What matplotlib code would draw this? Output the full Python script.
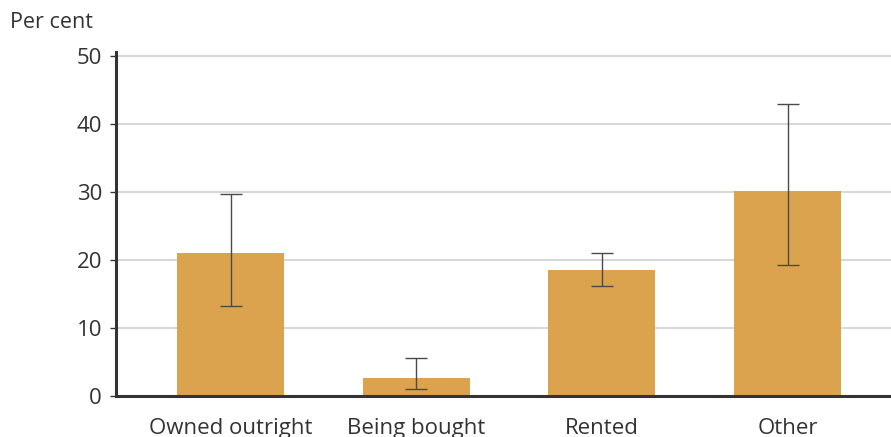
import matplotlib
matplotlib.use("Agg")
import matplotlib.pyplot as plt
import numpy as np

# tenure type, share in per cent, with confidence interval bounds
categories = ["Owned outright", "Being bought", "Rented", "Other"]
values = [21.0, 2.6, 18.5, 30.1]
err_low = [13.2, 1.0, 16.2, 19.3]
err_high = [29.7, 5.6, 21.0, 43.0]

plt.rcParams["font.family"] = ["Open Sans", "DejaVu Sans"]
txt = "#333333"

fig = plt.figure(figsize=(8.91, 4.37), dpi=100)
ax = fig.add_axes([116 / 891, 1 - 396 / 437, 1 - 116 / 891, (396 - 52) / 437])

x = np.arange(len(categories))
vals = np.array(values)
yerr = [vals - np.array(err_low), np.array(err_high) - vals]

ax.bar(x, vals, width=0.576, color="#DBA34D", zorder=2)
ax.errorbar(x, vals, yerr=yerr, fmt="none", ecolor="#4a4a4a", elinewidth=1.0,
            capsize=8, capthick=1.0, zorder=3)

ax.set_xlim(-0.617, 3.557)
ax.set_ylim(0, 50.6)
ax.set_yticks([0, 10, 20, 30, 40, 50])
ax.set_xticks(x)
ax.set_xticklabels(categories)
ax.yaxis.grid(True, color="#D6D8DC", linewidth=1.5, zorder=0)
ax.set_axisbelow(True)

for s in ["top", "right"]:
    ax.spines[s].set_visible(False)
ax.spines["left"].set_linewidth(2.2)
ax.spines["bottom"].set_linewidth(2.2)
ax.spines["left"].set_color("#333333")
ax.spines["bottom"].set_color("#333333")

ax.tick_params(axis="y", length=4, width=1, color="#333333", labelsize=16,
               labelcolor=txt, pad=6)
ax.tick_params(axis="x", length=0, labelsize=16, labelcolor=txt, pad=16)

fig.text(10 / 891, 1 - 22 / 437, "Per cent", fontsize=15.5, color=txt,
         ha="left", va="center")

fig.savefig("out.png", dpi=100)
